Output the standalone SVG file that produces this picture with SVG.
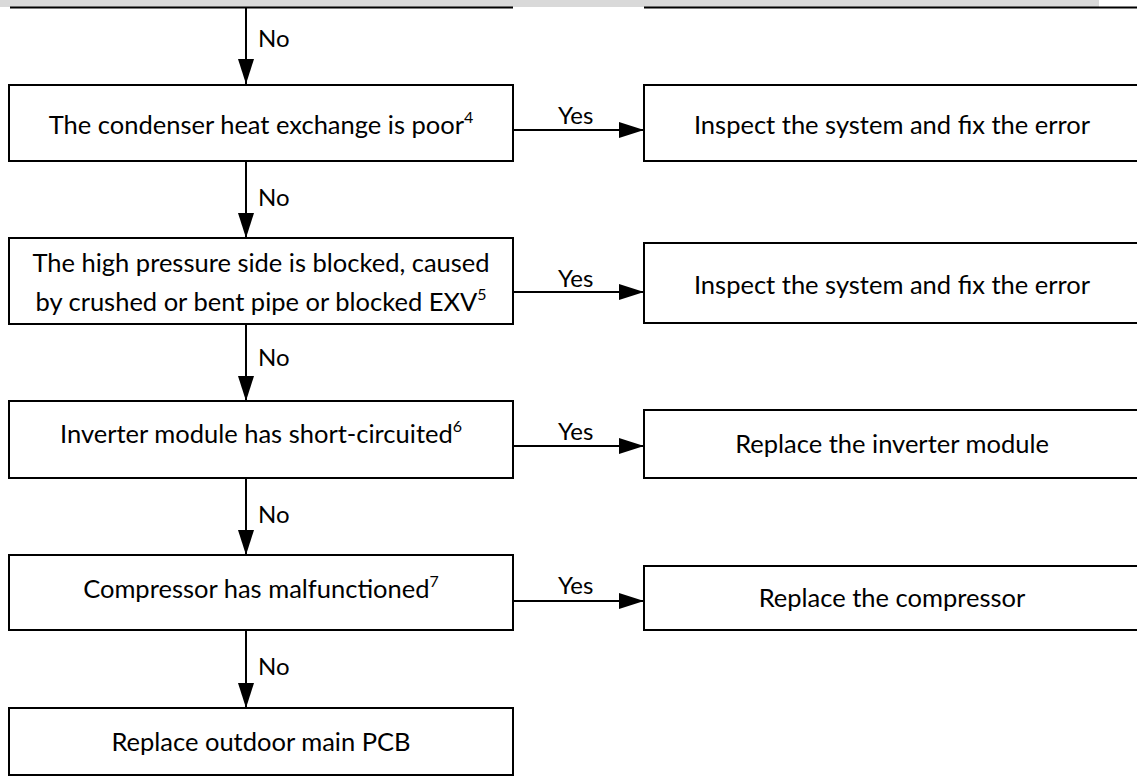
<svg xmlns="http://www.w3.org/2000/svg" width="1137" height="781" viewBox="0 0 1137 781">
<defs>
<marker id="ah" markerUnits="userSpaceOnUse" markerWidth="26" markerHeight="16" refX="25" refY="8" orient="auto">
<path d="M0,0 L25,8 L0,16 Z" fill="#000"/>
</marker>
<style>
.box{fill:#fff;stroke:#000;stroke-width:2}
.t{font-family:Lato,"Liberation Sans",sans-serif;font-size:25.5px;fill:#000;text-anchor:middle;dominant-baseline:central}
.lbl{font-family:Lato,"Liberation Sans",sans-serif;font-size:24px;fill:#000;dominant-baseline:central}
.c{stroke:#000;stroke-width:2;fill:none;marker-end:url(#ah)}
.sup{font-size:16px}
</style>
</defs>
<rect x="0" y="0" width="1099" height="7" fill="#d9d9d9"/>
<line x1="10" y1="7.5" x2="513" y2="7.5" stroke="#000" stroke-width="2"/>
<line x1="644" y1="7.5" x2="1137" y2="7.5" stroke="#000" stroke-width="2"/>
<g id="connectors">
<line class="c" x1="246" y1="8" x2="246" y2="84"/>
<line class="c" x1="246" y1="161" x2="246" y2="238"/>
<line class="c" x1="246" y1="324" x2="246" y2="401"/>
<line class="c" x1="246" y1="478" x2="246" y2="555"/>
<line class="c" x1="246" y1="630" x2="246" y2="708"/>
<line class="c" x1="513" y1="130" x2="644" y2="130"/>
<line class="c" x1="513" y1="292" x2="644" y2="292"/>
<line class="c" x1="513" y1="446" x2="644" y2="446"/>
<line class="c" x1="513" y1="601" x2="644" y2="601"/>
<text class="lbl" x="258" y="37">No</text>
<text class="lbl" x="258" y="196">No</text>
<text class="lbl" x="258" y="356">No</text>
<text class="lbl" x="258" y="513">No</text>
<text class="lbl" x="258" y="665">No</text>
<text class="lbl" x="558" y="114">Yes</text>
<text class="lbl" x="558" y="277">Yes</text>
<text class="lbl" x="558" y="430">Yes</text>
<text class="lbl" x="558" y="584">Yes</text>
</g>
<g id="n1"><rect class="box" x="9" y="85" width="504" height="76"/>
<text class="t" x="261" y="124">The condenser heat exchange is poor<tspan class="sup" dy="-8">4</tspan></text></g>
<g id="n1y"><rect class="box" x="644" y="85" width="497" height="76"/>
<text class="t" x="892" y="124">Inspect the system and fix the error</text></g>
<g id="n2"><rect class="box" x="9" y="238" width="504" height="86"/>
<text class="t" x="261" y="262">The high pressure side is blocked, caused</text>
<text class="t" x="261" y="301">by crushed or bent pipe or blocked EXV<tspan class="sup" dy="-8">5</tspan></text></g>
<g id="n2y"><rect class="box" x="644" y="243" width="497" height="80"/>
<text class="t" x="892" y="284">Inspect the system and fix the error</text></g>
<g id="n3"><rect class="box" x="9" y="401" width="504" height="77"/>
<text class="t" x="261" y="433">Inverter module has short-circuited<tspan class="sup" dy="-8">6</tspan></text></g>
<g id="n3y"><rect class="box" x="644" y="410" width="497" height="68"/>
<text class="t" x="892" y="443">Replace the inverter module</text></g>
<g id="n4"><rect class="box" x="9" y="555" width="504" height="75"/>
<text class="t" x="261" y="588">Compressor has malfunctioned<tspan class="sup" dy="-8">7</tspan></text></g>
<g id="n4y"><rect class="box" x="644" y="566" width="497" height="64"/>
<text class="t" x="892" y="597">Replace the compressor</text></g>
<g id="n5"><rect class="box" x="9" y="708" width="504" height="67"/>
<text class="t" x="261" y="741">Replace outdoor main PCB</text></g>
</svg>
